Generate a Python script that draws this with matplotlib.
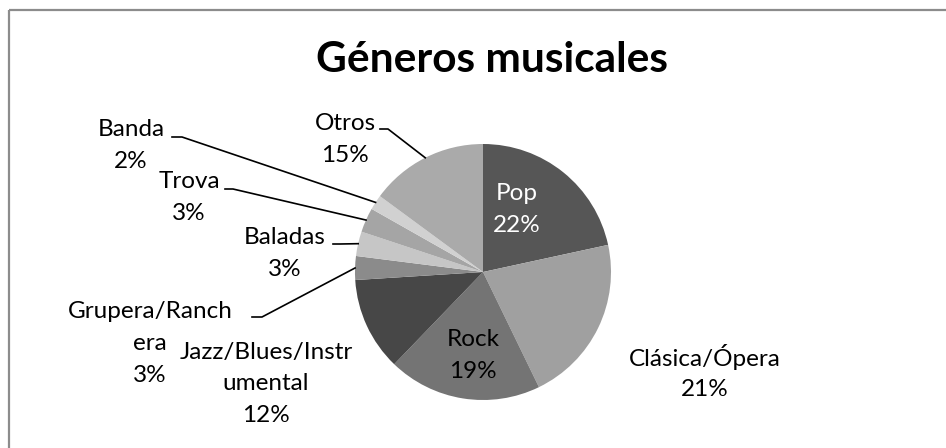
import matplotlib
matplotlib.use("Agg")
import matplotlib.pyplot as plt
import numpy as np
from matplotlib.patches import Rectangle

# data
genres = ["Pop", "Clásica/Ópera", "Rock", "Jazz/Blues/Instr\numental",
          "Grupera/Ranch\nera", "Baladas", "Trova", "Banda", "Otros"]
shares = [21.6, 21.2, 19.4, 11.8, 3.0, 3.1, 3.1, 1.9, 14.9]
grays = ["#565656", "#a0a0a0", "#747474", "#474747", "#8b8b8b",
         "#c6c6c6", "#a5a5a5", "#d1d1d1", "#aaaaaa"]

plt.rcParams['font.family'] = ['Lato', 'DejaVu Sans']

W, H = 946, 448
fig = plt.figure(figsize=(W / 100, H / 100), dpi=100)
ax = fig.add_axes([0, 0, 1, 1])

# y axis is inverted below, so counterclockwise in data = clockwise on screen
cx, cy, r = 483, 272, 128
wedges, _ = ax.pie(shares, colors=grays, startangle=-90, counterclock=True,
                   center=(cx, cy), radius=r, frame=True,
                   wedgeprops=dict(linewidth=0))
ax.set_xlim(0, W)
ax.set_ylim(H, 0)  # pixel coords, y down
ax.set_aspect('equal')
ax.axis('off')

# chart frame (runs off right/bottom edges like the source crop)
ax.add_patch(Rectangle((9, 10), W + 20, H + 20, fill=False,
                       edgecolor="#8c8c8c", linewidth=1.6))

ax.text(492, 60, "Géneros musicales", ha='center', va='center',
        fontsize=30.5, fontweight='bold', color='black')

total = sum(shares)
# label block centres and leader starts (None = no leader)
label_pos = [(517, 209), (705, 373), (473, 356), (266, 384), (150, 343),
             (285, 254), (189, 198), (131, 146), (345, 139)]
leaders = [None, None, None, None,
           [(252, 317), (262, 317)],
           [(333, 244), (340, 244)],
           [(225, 189), (233, 189)],
           [(172, 137), (182, 137)],
           [(380, 129), (388, 129)]]
line_gap = 32

for i, w in enumerate(wedges):
    lines = genres[i].split("\n") + [f"{shares[i] / total * 100:.0f}%"]
    col = 'white' if i == 0 else 'black'
    x, y = label_pos[i]
    n = len(lines)
    for k, s in enumerate(lines):
        ax.text(x, y + (k - (n - 1) / 2) * line_gap, s, ha='center',
                va='center', fontsize=17.5, color=col)
    if leaders[i] is not None:
        mid = np.deg2rad((w.theta1 + w.theta2) / 2)
        ex, ey = cx + r * np.cos(mid), cy + r * np.sin(mid)
        pts = leaders[i] + [(ex, ey)]
        xs, ys = zip(*pts)
        ax.plot(xs, ys, color='black', linewidth=1.2)

fig.savefig("out.png", dpi=100, facecolor='white')
